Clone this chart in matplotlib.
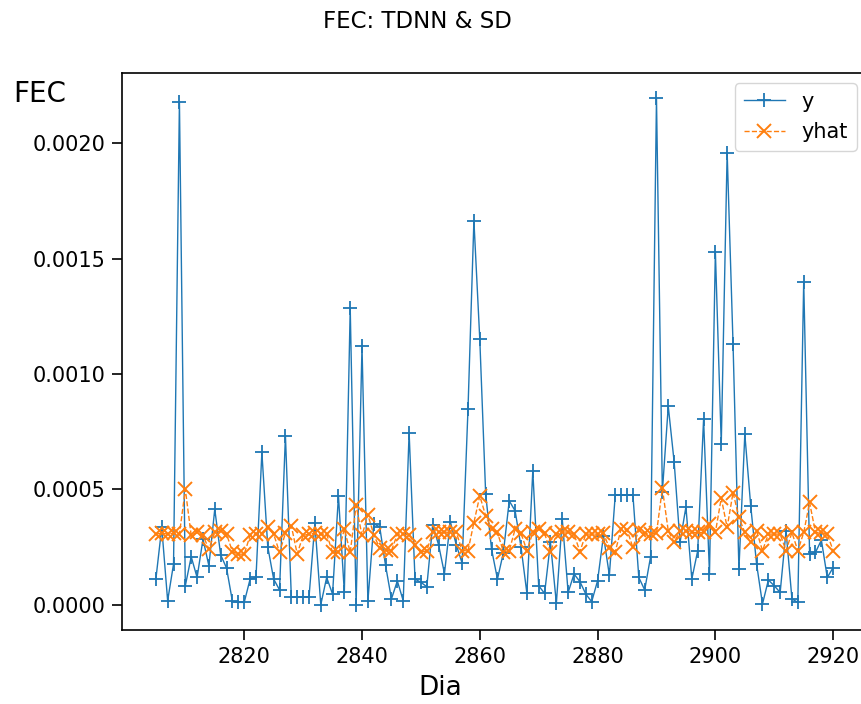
import numpy as np
import matplotlib
matplotlib.use("Agg")
import matplotlib.pyplot as plt
from matplotlib.ticker import FormatStrFormatter

# Day index
dias = np.arange(2805, 2921)

# Observed FEC (units of 1e-4)
y_obs = [
    1.11, 3.35, 0.17, 1.76, 21.8, 0.82, 2.08, 1.18, 2.84, 1.69,
    4.14, 2.16, 1.59, 0.14, 0.10, 0.10, 1.11, 1.18, 6.60, 2.51,
    1.11, 0.64, 7.32, 0.32, 0.32, 0.32, 0.32, 3.52, 0.00, 1.18,
    0.46, 4.72, 0.53, 12.85, 0.00, 11.2, 0.15, 3.50, 3.38, 1.70,
    0.25, 1.03, 0.17, 7.46, 1.11, 0.97, 0.78, 3.45, 2.60, 1.35,
    3.60, 2.60, 1.80, 8.50, 16.65, 11.5, 4.79, 2.40, 1.11, 2.25,
    4.50, 4.07, 2.50, 0.49, 5.80, 0.82, 0.49, 2.70, 0.06, 3.71,
    0.53, 1.33, 1.00, 0.46, 0.13, 1.04, 2.99, 1.28, 4.76, 4.76,
    4.76, 4.76, 1.18, 0.64, 2.08, 21.95, 4.90, 8.60, 6.19, 2.70,
    4.24, 1.11, 2.34, 8.04, 1.33, 15.3, 6.98, 19.6, 11.3, 1.55,
    7.39, 4.29, 1.76, 0.03, 1.07, 0.82, 0.53, 3.20, 0.25, 0.10,
    14.0, 2.19, 2.27, 2.80, 1.18, 1.61,
]

# Predicted FEC (units of 1e-4)
y_hat = [
    3.06, 3.10, 3.06, 3.10, 3.06, 5.00, 3.00, 3.13, 3.00, 2.41,
    3.13, 3.20, 3.06, 2.30, 2.19, 2.19, 3.00, 3.06, 3.06, 3.38,
    3.06, 2.27, 3.10, 3.42, 2.20, 3.00, 3.06, 3.10, 3.06, 3.06,
    2.27, 2.27, 3.28, 2.27, 4.30, 3.00, 3.90, 3.03, 2.45, 2.38,
    2.34, 3.06, 3.06, 3.03, 2.60, 2.27, 2.34, 3.15, 3.13, 3.15,
    3.13, 3.15, 2.34, 2.34, 3.56, 4.72, 3.85, 3.28, 3.13, 2.30,
    2.34, 3.28, 3.10, 2.34, 3.13, 3.30, 3.10, 2.27, 3.06, 3.15,
    3.15, 3.06, 2.30, 3.06, 3.06, 3.06, 3.10, 2.45, 2.30, 3.28,
    3.24, 2.48, 3.24, 3.10, 3.08, 3.10, 5.04, 3.20, 2.70, 3.20,
    3.20, 3.13, 3.13, 3.13, 3.49, 3.13, 4.62, 3.35, 4.86, 3.78,
    3.13, 2.70, 3.20, 2.34, 3.06, 3.06, 3.06, 2.34, 3.13, 2.34,
    3.13, 4.43, 3.13, 3.13, 3.06, 2.34,
]

y_obs = np.array(y_obs) * 1e-4
y_hat = np.array(y_hat) * 1e-4

fig = plt.figure(figsize=(8.61, 7.04), dpi=100)
ax = fig.add_axes([0.1417, 0.1051, 0.8653, 0.7912])

ax.plot(dias, y_obs, color="#1f77b4", linestyle="-", linewidth=1.0,
        marker="+", markersize=10, markeredgewidth=1.3, label="y")
ax.plot(dias, y_hat, color="#ff7f0e", linestyle="--", linewidth=1.0,
        marker="x", markersize=10, markeredgewidth=1.4, label="yhat")

ax.yaxis.set_major_formatter(FormatStrFormatter("%.4f"))
ax.set_xticks([2820, 2840, 2860, 2880, 2900, 2920])
ax.tick_params(axis="both", labelsize=15, length=7, width=1.2, pad=5)
for sp in ax.spines.values():
    sp.set_linewidth(1.2)

ax.set_xlabel("Dia", fontsize=19, va="center")
ax.xaxis.set_label_coords(0.427, -0.104)
ax.set_ylabel("FEC", fontsize=20, rotation=0, ha="center", va="center")
ax.yaxis.set_label_coords(-0.110, 0.962)

ax.legend(loc="upper right", fontsize=15, handlelength=2.0)

fig.text(417 / 861, 1 - 22 / 704, "FEC: TDNN & SD", fontsize=16.5,
         ha="center", va="center")

fig.savefig("out.png", dpi=100)
